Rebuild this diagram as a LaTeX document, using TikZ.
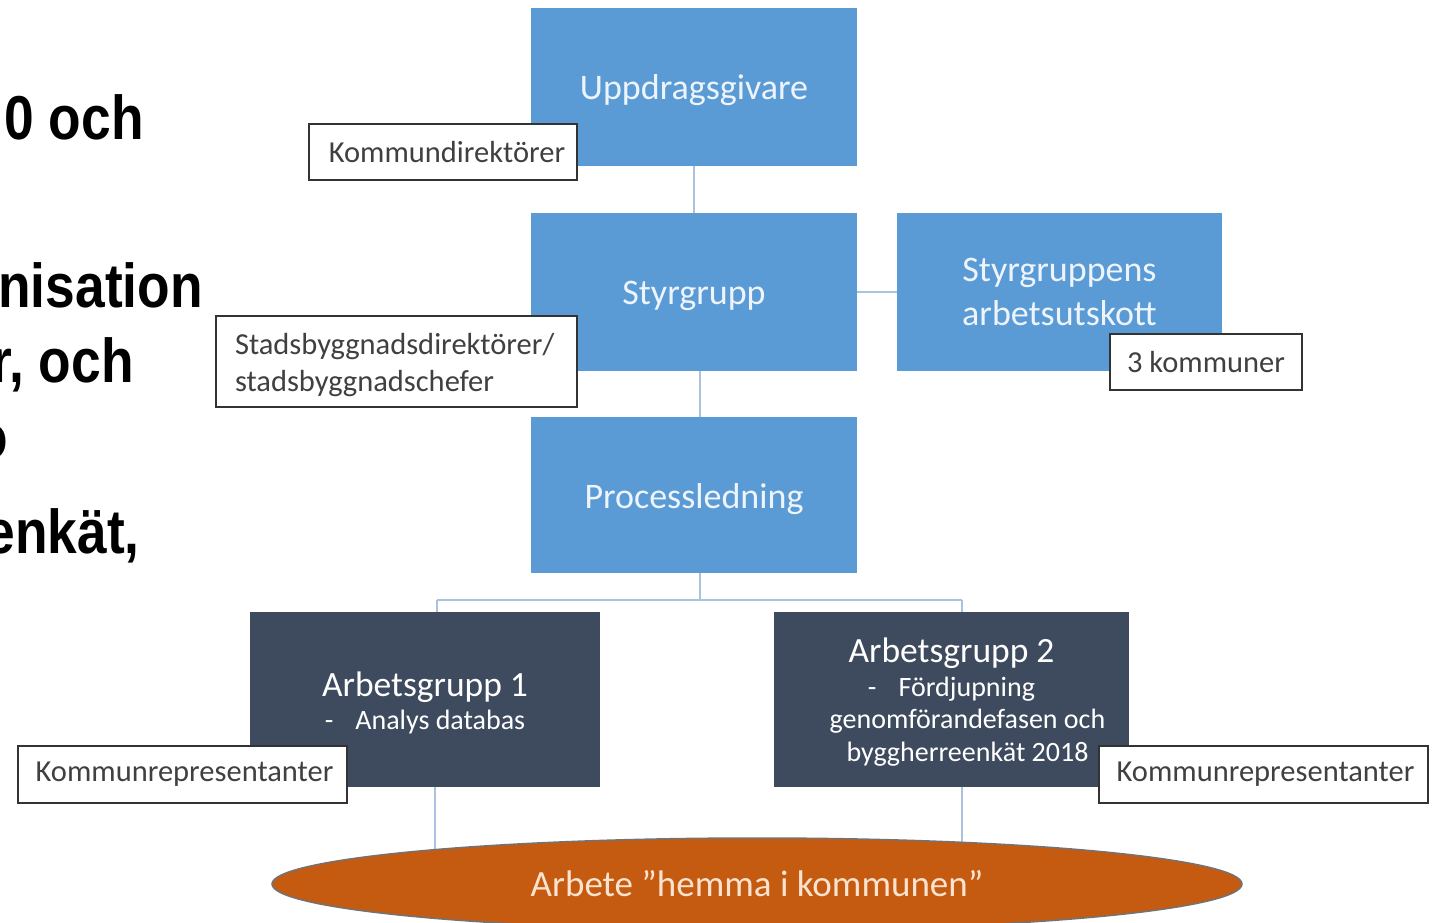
\documentclass[tikz,border=0pt]{standalone}
\usepackage{fontspec}
\setmainfont{Carlito}
\newfontfamily\bigfont[FakeStretch=0.86]{Liberation Sans}
\usetikzlibrary{shapes.geometric}
\pgfdeclarelayer{bg}
\pgfsetlayers{bg,main}
\definecolor{boxblue}{HTML}{5B9BD5}
\definecolor{boxdark}{HTML}{3E4A5E}
\definecolor{ovalorange}{HTML}{C55A11}
\definecolor{linecol}{HTML}{A9C3DF}
\definecolor{labeltext}{HTML}{404040}
\definecolor{bluetext}{HTML}{EEF4FB}
\definecolor{ovaltext}{HTML}{FBE3CF}
\newcommand{\lowr}[2]{\raisebox{-#1}[\height][\depth]{#2}}
\tikzset{
  bluebox/.style={rectangle, fill=boxblue, draw=none, inner sep=0pt, text=bluetext,
    align=center, font=\fontsize{36}{44}\selectfont},
  darkbox/.style={rectangle, fill=boxdark, draw=none, inner sep=0pt, text=white,
    align=center, font=\fontsize{28}{32.5}\selectfont},
  tagbox/.style={rectangle, fill=white, draw=black!80, line width=1.6pt, inner sep=0pt,
    text=labeltext, font=\fontsize{30.5}{38}\selectfont},
  conn/.style={draw=linecol, line width=1.5pt},
  bigtext/.style={anchor=base east, inner sep=0pt, font=\bigfont\bfseries\fontsize{62}{70}\selectfont}
}
\begin{document}
\begin{tikzpicture}[x=1pt,y=-1pt]
\useasboundingbox (0,0) rectangle (1435,922);

% left slide text (cropped)
\node[bigtext] (t1) at (144,139) {0 och};
\node[bigtext] (t2) at (203,307) {nisation};
\node[bigtext] (t3) at (134,382) {r, och};
\node[bigtext] (t4) at (8,458) {o};
\node[bigtext] (t5) at (140,553) {enkät,};

% main boxes
\node[bluebox, minimum width=326pt, minimum height=158pt] (upp) at (694,87) {\lowr{3.5pt}{Uppdragsgivare}};
\node[bluebox, minimum width=326pt, minimum height=158pt] (sty) at (694,292) {\lowr{4pt}{Styrgrupp}};
\node[bluebox, minimum width=325pt, minimum height=158pt] (au) at (1059.5,292)
  {Styrgruppens\\arbetsutskott};
\node[bluebox, minimum width=326pt, minimum height=156pt] (proc) at (694,495) {\lowr{4pt}{Processledning}};

\node[darkbox, minimum width=350pt, minimum height=175pt] (ag1) at (425,699.5)
  {\lowr{3.5pt}{\fontsize{35.5}{40}\selectfont Arbetsgrupp 1}\\[1pt]
   \lowr{3.5pt}{-\hspace{22pt}Analys databas}};
\node[darkbox, minimum width=355pt, minimum height=175pt] (ag2) at (951.5,699.5)
  {\lowr{2.5pt}{\fontsize{35.5}{40}\selectfont Arbetsgrupp 2}\\[2pt]
   \lowr{2pt}{-\hspace{22pt}Fördjupning}\\
   \lowr{2pt}{\hspace*{32pt}genomförandefasen och}\\
   \lowr{2pt}{\hspace*{32pt}byggherreenkät 2018}};

% ellipse
\node[ellipse, fill=ovalorange, draw=black!55, line width=1.5pt, inner sep=0pt,
  minimum width=970pt, minimum height=92pt, text=ovaltext,
  font=\fontsize{37}{42}\selectfont] (hem) at (757,884) {Arbete ”hemma i kommunen”};

% tag boxes
\node[tagbox, minimum width=268pt, minimum height=56pt] (kd) at (443,152) {\hspace*{8pt}Kommundirektörer};
\node[tagbox, minimum width=361pt, minimum height=91pt, align=left, text width=323pt,
  font=\fontsize{30.5}{37}\selectfont] (sb) at (396.5,361.5)
  {\lowr{4pt}{Stadsbyggnadsdirektörer/}\\\lowr{4pt}{stadsbyggnadschefer}};
\node[tagbox, minimum width=192pt, minimum height=56pt] (k3) at (1206,362) {3 kommuner};
\node[tagbox, minimum width=329pt, minimum height=57pt] (krl) at (182.5,774.5) {\hspace*{4pt}Kommunrepresentanter};
\node[tagbox, minimum width=329pt, minimum height=57pt] (krr) at (1263.5,774.5) {\hspace*{4pt}Kommunrepresentanter};

% connectors
\coordinate (busL) at (437,600);
\coordinate (busR) at (962,600);
\coordinate (pm) at (700,600);
\coordinate (hl) at (435,870);
\coordinate (hr) at (962,870);
\begin{pgfonlayer}{bg}
\draw[conn] (upp.south) -- (sty.north);
\draw[conn] (sty.east) -- (au.west);
\draw[conn] ([xshift=6pt]sty.south) -- ([xshift=6pt]proc.north);
\draw[conn] ([xshift=6pt]proc.south) -- (pm);
\draw[conn] (busL) -- (busR);
\draw[conn] (busL) -- (busL |- ag1.north);
\draw[conn] (busR) -- (busR |- ag2.north);
\draw[conn] (ag1.south -| hl) -- (hl);
\draw[conn] (ag2.south -| hr) -- (hr);
\end{pgfonlayer}
\end{tikzpicture}
\end{document}
